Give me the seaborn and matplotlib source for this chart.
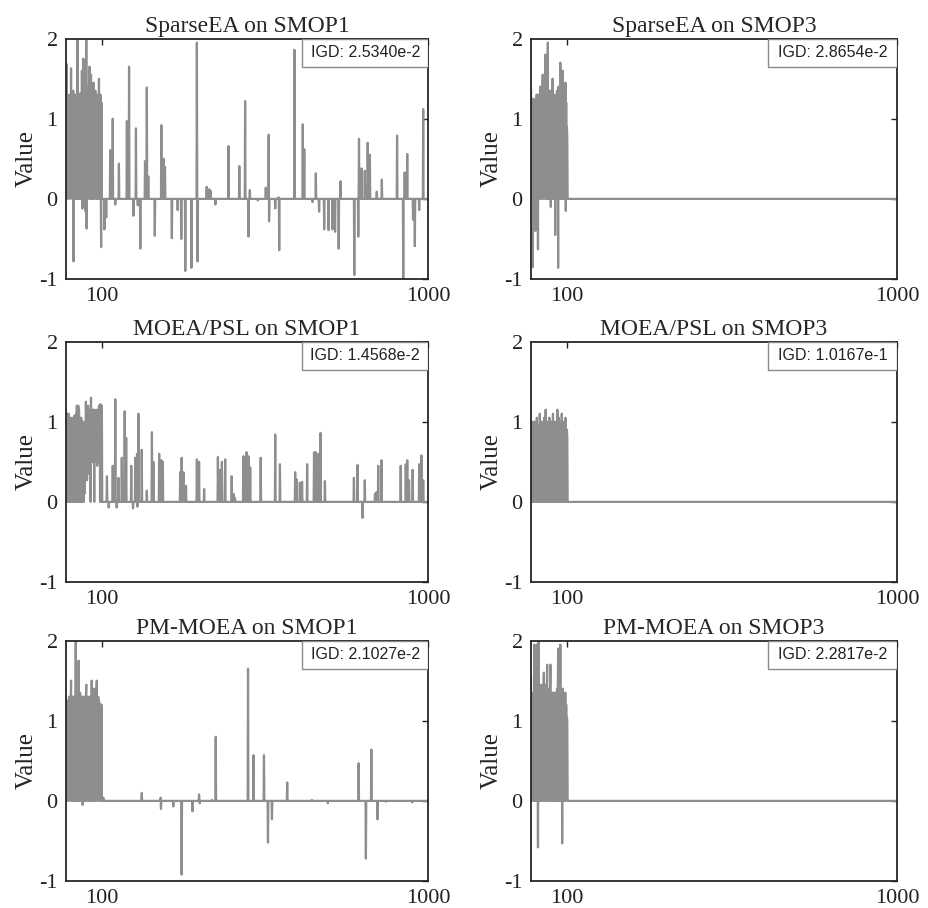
import numpy as np
import pandas as pd
import matplotlib
matplotlib.use('Agg')
import matplotlib.pyplot as plt
from matplotlib.patches import Rectangle
import seaborn as sns

# ---- data ----
titles = ['SparseEA on SMOP1', 'SparseEA on SMOP3',
          'MOEA/PSL on SMOP1', 'MOEA/PSL on SMOP3',
          'PM-MOEA on SMOP1', 'PM-MOEA on SMOP3']
igd_labels = ['IGD: 2.5340e-2', 'IGD: 2.8654e-2',
              'IGD: 1.4568e-2', 'IGD: 1.0167e-1',
              'IGD: 2.1027e-2', 'IGD: 2.2817e-2']
n_vars = 1000

# first 100 decision variables (dense part)
sparseea_smop1_head = [
    1.20, 0.05, 1.68, 0.10, 1.30, 0.00, 1.10, 0.20, 1.25, 0.02,
    1.30, 0.00, 0.90, 0.10, 1.63, 0.05, 1.28, 0.00, 1.15, 0.30,
    1.35, -0.78, 1.20, 0.00, 1.30, 0.10, 0.95, 0.00, 1.28, 0.05,
    1.30, 0.00, 2.00, 0.15, 1.25, 0.00, 1.30, 0.05, 1.10, 0.00,
    1.32, 0.10, 1.20, 0.00, 1.60, -0.12, 1.30, -0.10, 1.75, 0.00,
    1.30, 0.05, 1.25, -0.15, 1.28, 0.00, 2.00, -0.37, 1.30, 0.10,
    1.40, 0.00, 1.20, 0.05, 1.30, 1.65, 0.00, 1.25, 0.10, 1.55,
    0.00, 1.30, 0.05, 1.20, 0.00, 1.28, 1.45, 0.00, 1.30, 0.02,
    1.10, 1.35, 0.00, 1.25, 0.05, 1.30, 0.00, 1.28, 0.10, 1.20,
    0.00, 1.50, 0.05, 1.30, 0.00, 1.30, 0.10, -0.60, 1.20, 0.00]
sparseea_smop3_head = [
    1.38, 0.00, 1.20, 0.10, 1.10, -0.85, 1.25, 1.15, 0.00, 1.20,
    0.05, 1.10, -0.40, 1.25, 0.00, 1.30, 1.30, 0.10, 1.20, -0.63,
    1.15, 0.00, 1.30, 0.05, 1.25, 1.40, 0.00, 1.20, 0.10, 1.35,
    0.00, 1.30, 1.55, 0.05, 1.25, 0.00, 1.40, 0.10, 1.30, 1.80,
    0.00, 1.35, 0.05, 1.20, 0.00, 1.30, 1.95, 0.00, 1.35, 0.10,
    1.25, 0.00, 1.30, 1.35, -0.10, 1.20, 0.05, 1.30, 0.00, 1.50,
    0.10, 1.30, 0.00, 1.25, 0.05, 1.20, -0.45, 1.30, 0.00, 1.25,
    0.10, 1.35, 0.00, 1.20, -0.86, 1.40, 0.05, 1.30, 0.00, 1.25,
    1.70, 0.00, 1.35, 0.10, 1.30, 0.00, 1.60, 0.05, 1.40, 0.00,
    1.30, 0.10, 1.35, 0.00, 1.45, -0.15, 1.20, 0.00, 0.90, 0.75]
moeapsl_smop1_head = [
    1.15, 0.00, 1.00, 0.05, 1.10, 0.00, 0.95, 0.10, 1.10, 0.00,
    1.00, 0.05, 0.98, 0.00, 1.05, 0.10, 1.00, 0.00, 1.02, 0.05,
    1.05, 0.00, 1.00, 0.10, 1.08, 0.00, 1.05, 0.05, 1.10, 0.00,
    1.20, 0.05, 1.18, 0.00, 1.20, 0.10, 1.15, 0.00, 1.05, 0.05,
    1.00, 0.00, 1.05, 0.10, 1.00, 0.00, 0.95, 0.05, 1.00, 0.00,
    0.95, 0.10, 0.60, 0.95, 0.50, 1.25, 0.55, 1.00, 0.27, 1.05,
    0.50, 1.20, 0.35, 1.10, 0.55, 1.00, 0.50, 1.15, 0.00, 1.30,
    0.55, 1.15, 0.50, 1.00, 0.60, 1.15, 0.50, 1.10, 0.00, 1.15,
    0.55, 1.12, 0.50, 1.00, 0.60, 1.15, 0.45, 1.10, 0.55, 1.00,
    0.50, 1.20, 0.55, 1.15, 0.00, 1.22, 0.50, 1.05, 0.00, 1.20]
moeapsl_smop3_head = [
    0.95, 0.00, 0.85, 0.10, 1.00, 0.00, 0.80, 0.05, 0.95, 0.00,
    1.00, 0.50, 0.90, 0.00, 0.85, 0.55, 1.05, 0.00, 0.90, 0.45,
    0.80, 0.00, 0.95, 0.60, 1.10, 0.00, 0.85, 0.50, 0.90, 0.00,
    1.00, 0.55, 0.75, 0.00, 0.95, 0.50, 1.05, 0.00, 0.85, 0.60,
    1.15, 0.00, 0.90, 0.45, 1.00, 0.00, 0.80, 0.55, 0.95, 0.00,
    1.05, 0.50, 0.90, 0.00, 0.85, 0.60, 1.00, 0.00, 0.95, 0.50,
    1.10, 0.00, 0.85, 0.55, 0.95, 0.00, 1.00, 0.50, 0.80, 0.00,
    0.95, 0.60, 1.15, 0.00, 0.90, 0.50, 1.05, 0.00, 0.85, 0.55,
    1.00, 0.00, 0.90, 0.45, 1.10, 0.00, 0.95, 0.50, 0.85, 0.00,
    1.00, 0.55, 0.90, 0.00, 1.05, 0.50, 0.85, 0.00, 0.90, 0.80]
pmmoea_smop1_head = [
    1.30, 0.00, 1.20, 0.10, 1.25, 0.00, 1.10, 1.25, 0.05, 1.30,
    0.00, 1.20, 0.10, 1.15, 1.50, 0.00, 1.30, 0.05, 1.20, 1.30,
    0.00, 1.25, 0.10, 1.30, 0.00, 1.20, 0.05, 2.00, 0.00, 1.30,
    0.10, 1.25, 0.00, 1.30, 0.05, 1.75, 0.00, 1.30, 0.10, 1.35,
    0.00, 1.25, 0.05, 1.30, 0.00, 1.20, -0.05, 1.30, 0.10, 1.25,
    0.00, 1.30, 0.05, 1.20, 0.00, 1.30, 1.45, 0.00, 1.25, 0.75,
    0.05, 1.30, 0.00, 1.20, 0.10, 1.30, 0.00, 1.25, 0.05, 1.30,
    0.00, 1.50, 0.10, 1.25, 0.00, 1.30, 0.05, 1.20, 1.40, 0.00,
    1.30, 0.10, 1.25, 0.00, 1.30, 1.50, 0.05, 1.20, 0.00, 1.30,
    0.10, 1.25, 1.20, 0.00, 1.20, 0.05, 1.20, 0.00, 1.20, 0.05]
pmmoea_smop3_head = [
    1.55, 0.00, 1.20, 1.35, 0.05, 1.30, 0.00, 1.25, 0.10, 1.95,
    0.00, 1.30, 0.05, 1.25, 0.00, 1.30, 1.95, 0.00, 1.20, -0.58,
    1.30, 2.00, 0.00, 1.40, 0.05, 1.30, 0.00, 1.25, 1.45, 0.00,
    1.30, 0.10, 1.35, 0.00, 1.20, 1.60, 0.05, 1.30, 0.00, 1.45,
    0.10, 1.35, 0.00, 1.30, 1.70, 0.00, 1.40, 0.05, 1.35, 0.00,
    1.30, 0.10, 1.40, 1.70, 0.00, 1.35, 0.05, 1.30, 0.00, 1.35,
    0.10, 1.30, 0.00, 1.35, 0.05, 1.30, 0.00, 1.35, 0.10, 1.30,
    0.00, 1.40, 0.05, 1.35, 1.90, 0.00, 1.30, 0.10, 1.35, 0.00,
    1.95, 0.05, 1.30, 0.00, 1.35, -0.53, 1.30, 1.40, 0.00, 1.25,
    0.05, 1.30, 0.00, 1.35, 1.35, 0.00, 1.20, 0.05, 1.05, 1.00]

# remaining variables: nonzero positions (1-based) and their values
sparseea_smop1_idx = [107, 112, 123, 130, 137, 147, 169, 175, 187, 194,
                      199, 206, 219, 224, 228, 246, 264, 270, 274, 293,
                      309, 319, 330, 347, 362, 364, 389, 396, 400, 413,
                      449, 479, 495, 504, 508, 530, 552, 560, 561, 578,
                      587, 589, 631, 654, 658, 681, 690, 699, 713, 725,
                      736, 743, 753, 758, 796, 807, 809, 816, 825, 833,
                      839, 858, 872, 914, 931, 935, 942, 958, 963, 975,
                      986]
sparseea_smop1_val = [-0.38, -0.23, 0.61, 1.00, -0.07, 0.44, 0.97, 1.65, -0.21, 0.88,
                      -0.08, -0.62, 0.47, 1.39, 0.28, -0.46, 0.92, 0.50, 0.40, -0.49,
                      -0.14, -0.50, -0.90, -0.86, 1.95, -0.78, 0.15, 0.12, 0.10, -0.07,
                      0.66, 0.41, 1.22, -0.47, 0.11, -0.02, 0.14, 0.80, -0.28, -0.12,
                      0.02, -0.64, 1.86, 0.93, 0.62, -0.04, 0.32, -0.16, -0.38, -0.39,
                      -0.38, -0.41, -0.62, 0.22, -0.95, -0.47, 0.75, 0.38, 0.35, 0.70,
                      0.55, 0.09, 0.24, 0.79, -1.00, 0.33, 0.56, -0.26, -0.59, -0.14,
                      1.12]
sparseea_smop3_idx = []
sparseea_smop3_val = []
moeapsl_smop1_idx = [114, 119, 130, 137, 141, 146, 155, 163, 167, 181,
                     186, 192, 197, 198, 201, 210, 224, 238, 242, 258,
                     264, 268, 316, 320, 325, 332, 362, 368, 382, 420,
                     426, 431, 440, 458, 463, 467, 490, 495, 499, 504,
                     509, 538, 578, 591, 633, 637, 646, 652, 666, 685,
                     690, 697, 703, 715, 795, 805, 819, 825, 853, 857,
                     862, 871, 924, 938, 942, 947, 957, 975, 981, 986]
moeapsl_smop1_val = [0.32, -0.07, 0.45, 1.28, -0.07, 0.30, 0.55, 1.13, 0.80, 0.45,
                     -0.08, 0.55, 0.60, -0.06, 1.10, 0.65, 0.14, 0.87, 0.50, 0.60,
                     0.52, 0.50, 0.37, 0.55, 0.37, 0.20, 0.53, 0.50, 0.16, 0.56,
                     0.40, 0.50, 0.53, 0.32, 0.10, 0.05, 0.57, 0.55, 0.62, 0.57,
                     0.43, 0.55, 0.84, 0.47, 0.37, 0.28, 0.24, 0.25, 0.47, 0.62,
                     0.62, 0.60, 0.86, 0.26, 0.30, 0.46, -0.20, 0.27, 0.10, 0.12,
                     0.45, 0.52, 0.45, 0.47, 0.52, 0.27, 0.40, 0.47, 0.58, 0.27]
moeapsl_smop3_idx = []
moeapsl_smop3_val = []
pmmoea_smop1_idx = [104, 210, 262, 263, 297, 320, 350, 368, 370, 404,
                    414, 503, 518, 547, 558, 569, 611, 679, 723, 808,
                    828, 843, 860, 883, 956]
pmmoea_smop1_val = [0.04, 0.10, 0.04, -0.10, -0.07, -0.92, -0.13, 0.08, -0.03, 0.01,
                    0.80, 1.65, 0.57, 0.57, -0.52, -0.23, 0.23, 0.01, -0.03, 0.47,
                    -0.72, 0.64, -0.23, -0.01, -0.02]
pmmoea_smop3_idx = []
pmmoea_smop3_val = []

heads = [sparseea_smop1_head, sparseea_smop3_head, moeapsl_smop1_head,
         moeapsl_smop3_head, pmmoea_smop1_head, pmmoea_smop3_head]
tail_idx = [sparseea_smop1_idx, sparseea_smop3_idx, moeapsl_smop1_idx,
            moeapsl_smop3_idx, pmmoea_smop1_idx, pmmoea_smop3_idx]
tail_val = [sparseea_smop1_val, sparseea_smop3_val, moeapsl_smop1_val,
            moeapsl_smop3_val, pmmoea_smop1_val, pmmoea_smop3_val]


def build_solution(head, idx, val):
    """Full decision vector: dense head, listed spikes, zeros elsewhere."""
    x = np.zeros(n_vars)
    x[:len(head)] = head
    if idx:
        x[np.array(idx) - 1] = val
    return pd.DataFrame({'var': np.arange(1, n_vars + 1), 'value': x})


sns.set_style('white')
plt.rcParams['font.family'] = ['Liberation Serif', 'DejaVu Serif']

fig = plt.figure(figsize=(9.29, 9.08), dpi=100)

lefts = [0.071, 0.5716]
widths = [0.390, 0.394]
bottoms = [0.6927, 0.359, 0.0297]
height = 0.2648

line_color = '#8e8e8e'

for k in range(6):
    r, c = divmod(k, 2)
    ax = fig.add_axes([lefts[c], bottoms[r], widths[c], height])
    df = build_solution(heads[k], tail_idx[k], tail_val[k])
    sns.lineplot(data=df, x='var', y='value', ax=ax, color=line_color,
                 linewidth=1.6, legend=False)

    ax.set_xlim(1, 1000)
    ax.set_ylim(-1, 2)
    ax.set_xticks([100, 1000])
    ax.set_xticklabels(['100', '1000'])
    ax.set_yticks([-1, 0, 1, 2])
    ax.set_yticklabels(['-1', '0', '1', '2'])
    ax.tick_params(direction='in', length=4, width=1, top=True, right=True,
                   labelsize=16, colors='#222222', pad=6)
    ax.set_xlabel('')
    ax.set_ylabel('Value', fontsize=18, labelpad=1)
    ax.set_title(titles[k], fontsize=17, pad=5)
    for s in ax.spines.values():
        s.set_color('#262626')
        s.set_linewidth(1.3)

    # IGD box in the upper right corner
    bw = 0.348 if c == 0 else 0.352
    bh = 0.118
    ax.add_patch(Rectangle((1 - bw, 1 - bh), bw, bh, transform=ax.transAxes,
                           facecolor='white', edgecolor='#8a8a8a',
                           linewidth=1.0, zorder=5))
    ax.text(1 - bw / 2, 1 - bh / 2, igd_labels[k], transform=ax.transAxes,
            ha='center', va='center', fontsize=11.5,
            family=['Liberation Sans', 'DejaVu Sans'], color='#222222', zorder=6)

fig.savefig('out.png', dpi=100)
